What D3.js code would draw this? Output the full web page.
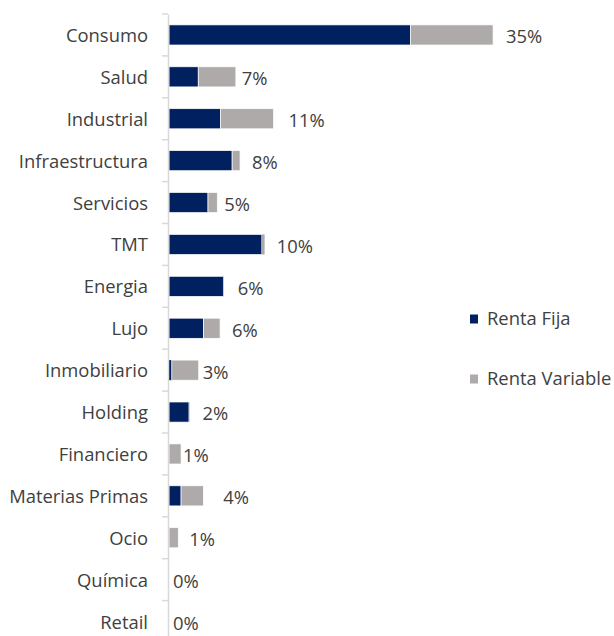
<!DOCTYPE html>
<html>
<head>
<meta charset="utf-8">
<script src="https://cdnjs.cloudflare.com/ajax/libs/d3/7.8.5/d3.min.js"></script>
<style>
  html, body { margin: 0; padding: 0; background: #fff; }
  svg { display: block; font-family: "Open Sans", "Noto Sans", sans-serif; }
</style>
</head>
<body>
<svg id="chart" width="614" height="636"></svg>
<script>
// data
const sectors = ["Consumo", "Salud", "Industrial", "Infraestructura", "Servicios", "TMT",
    "Energia", "Lujo", "Inmobiliario", "Holding", "Financiero", "Materias Primas", "Ocio",
    "Química", "Retail"];
const rentaFija = [26.0, 3.15, 5.55, 6.8, 4.2, 10.0, 5.85, 3.7, 0.3, 2.15, 0, 1.3, 0, 0, 0];
const rentaVariable = [8.9, 4.05, 5.7, 0.85, 1.0, 0.3, 0.05, 1.8, 2.9, 0.05, 1.3, 2.4, 1.0, 0, 0];
const totalLabels = ["35%", "7%", "11%", "8%", "5%", "10%", "6%", "6%", "3%", "2%", "1%", "4%", "1%", "0%", "0%"];
const seriesNames = ["Renta Fija", "Renta Variable"];

// layout (label nudges copied from the hand-placed labels of the original)
const labelNudge = [13, 6, 15, 12, 7, 12, 14, 12, 4, 13, 2, 20, 11, 4, 4];
const colors = ["#002060", "#AEAAAA"];
const textColor = "#404040";

const svg = d3.select("svg#chart");

const y = d3.scaleBand()
    .domain(sectors)
    .range([14, 642.5])
    .paddingInner(0.52)
    .paddingOuter(0.26);

const x = d3.scaleLinear()
    .domain([0, 35])
    .range([169, 494]);

const rows = sectors.map((s, i) => ({
    sector: s, fija: rentaFija[i], variable: rentaVariable[i], label: totalLabels[i], nudge: labelNudge[i]
}));

const stack = d3.stack().keys(["fija", "variable"])(rows);

// bars
svg.append("g").selectAll("g")
    .data(stack)
    .join("g")
    .attr("fill", (d, i) => colors[i])
    .selectAll("rect")
    .data(d => d)
    .join("rect")
    .attr("x", d => x(d[0]))
    .attr("y", d => y(d.data.sector))
    .attr("width", d => Math.max(0, x(d[1]) - x(d[0])))
    .attr("height", y.bandwidth())
    .attr("stroke", "#fff")
    .attr("stroke-width", d => (x(d[1]) - x(d[0])) > 4 ? 0.7 : 0);

// axis
const axis = svg.append("g")
    .attr("transform", "translate(168,0)")
    .call(d3.axisLeft(y).tickSize(0).tickPadding(20));
axis.select(".domain").attr("stroke", "#D9D9D9").attr("stroke-width", 1.5);
axis.selectAll(".tick text")
    .attr("font-size", "18.4px")
    .attr("font-family", "'Open Sans', 'Noto Sans', sans-serif")
    .attr("fill", textColor)
    .attr("dy", "0.38em");

// tick marks at the band boundaries
svg.append("g").selectAll("line")
    .data(sectors)
    .join("line")
    .attr("x1", 162).attr("x2", 168)
    .attr("y1", d => y(d) - y.step() * y.paddingInner() / 2)
    .attr("y2", d => y(d) - y.step() * y.paddingInner() / 2)
    .attr("stroke", "#D9D9D9")
    .attr("stroke-width", 1.5);

// value labels
svg.append("g").selectAll("text")
    .data(rows)
    .join("text")
    .attr("x", d => x(d.fija + d.variable) + d.nudge)
    .attr("y", d => y(d.sector) + y.bandwidth() / 2 + 2)
    .attr("dy", "0.35em")
    .attr("font-size", "18.4px")
    .attr("fill", textColor)
    .text(d => d.label);

// legend
const legend = svg.append("g").selectAll("g")
    .data(seriesNames)
    .join("g")
    .attr("transform", (d, i) => `translate(470, ${319 + i * 60})`);
legend.append("rect")
    .attr("x", 0).attr("y", -4.5)
    .attr("width", 8).attr("height", 9)
    .attr("fill", (d, i) => colors[i]);
legend.append("text")
    .attr("x", 17)
    .attr("dy", "0.35em")
    .attr("font-size", "18.4px")
    .attr("fill", textColor)
    .text(d => d);
</script>
</body>
</html>
